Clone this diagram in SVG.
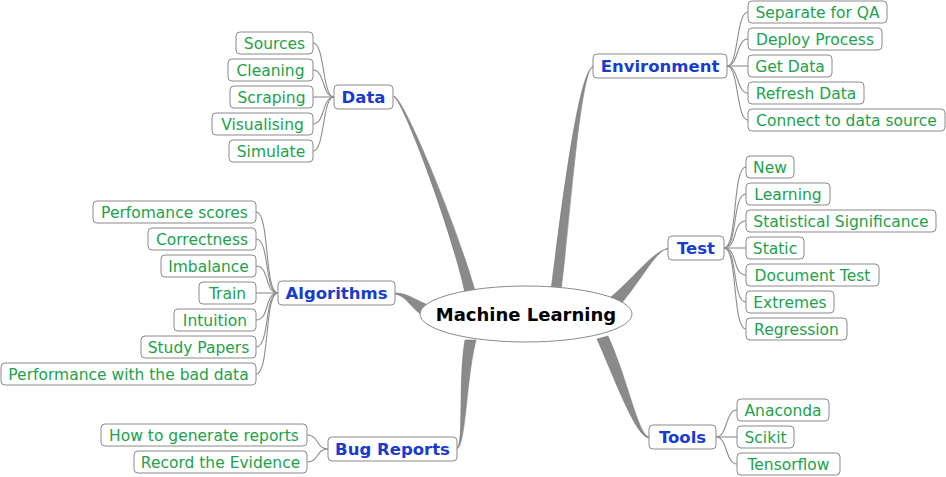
<svg xmlns="http://www.w3.org/2000/svg" width="946" height="477" viewBox="0 0 946 477">
<style>
.bg{fill:#ffffff}
.br{fill:#8a8a8a;stroke:#7a7a7a;stroke-width:0.6}
.ln{fill:none;stroke:#8c8c8c;stroke-width:1.1}
.cbox{fill:#ffffff;stroke:#8a8a8a;stroke-width:1}
.bbox{fill:#ffffff;stroke:#8a8a8a;stroke-width:1}
.ct{font-family:"DejaVu Sans",sans-serif;font-size:15.5px;fill:#21a24b;text-anchor:middle}
.bt{font-family:"DejaVu Sans",sans-serif;font-size:16.5px;font-weight:bold;fill:#1a3ccc;text-anchor:middle}
.mt{font-family:"DejaVu Sans",sans-serif;font-size:18px;font-weight:bold;fill:#000000;text-anchor:middle}
</style>
<rect class="bg" x="0" y="0" width="946" height="477"/>
<g id="connectors">
  <!-- main tapered branches -->
  <path class="br" d="M394,96 C405,100 458,230 475,291 L465,293 C452,232 404,102 394,97 Z"/>
  <path class="br" d="M593,66 C580,72 570,220 561,290 L551,290 C560,220 578,70 593,67 Z"/>
  <path class="br" d="M395,293 C408,293 414,300 431,306 L425,317 C410,308 407,296 395,294 Z"/>
  <path class="br" d="M668,248 C655,252 644,276 621,304 L611,297 C636,276 654,250 668,249 Z"/>
  <path class="br" d="M649,437 C638,435 628,380 608,336 L597,339 C616,382 636,437 649,438 Z"/>
  <path class="br" d="M457,449 C466,445 466,380 476,340 L465,340 C458,380 464,444 457,448 Z"/>
  <!-- child connectors: Data -->
  <path class="ln" d="M334,97 C322,97 325,43 313,43"/>
  <path class="ln" d="M334,97 C322,97 325,70 313,70"/>
  <path class="ln" d="M334,97 L313,97"/>
  <path class="ln" d="M334,97 C322,97 325,124 313,124"/>
  <path class="ln" d="M334,97 C322,97 325,151 313,151"/>
  <!-- Environment -->
  <path class="ln" d="M727,66 C739,66 736,12 748,12"/>
  <path class="ln" d="M727,66 C739,66 736,39 748,39"/>
  <path class="ln" d="M727,66 L748,66"/>
  <path class="ln" d="M727,66 C739,66 736,93 748,93"/>
  <path class="ln" d="M727,66 C739,66 736,120 748,120"/>
  <!-- Algorithms -->
  <path class="ln" d="M278,293 C264,293 270,212 256,212"/>
  <path class="ln" d="M278,293 C264,293 270,239 256,239"/>
  <path class="ln" d="M278,293 C264,293 270,266 256,266"/>
  <path class="ln" d="M278,293 L256,293"/>
  <path class="ln" d="M278,293 C264,293 270,320 256,320"/>
  <path class="ln" d="M278,293 C264,293 270,347 256,347"/>
  <path class="ln" d="M278,293 C264,293 270,374 256,374"/>
  <!-- Test -->
  <path class="ln" d="M724,248 C738,248 732,167 746,167"/>
  <path class="ln" d="M724,248 C738,248 732,194 746,194"/>
  <path class="ln" d="M724,248 C738,248 732,221 746,221"/>
  <path class="ln" d="M724,248 L746,248"/>
  <path class="ln" d="M724,248 C738,248 732,275 746,275"/>
  <path class="ln" d="M724,248 C738,248 732,302 746,302"/>
  <path class="ln" d="M724,248 C738,248 732,329 746,329"/>
  <!-- Bug Reports -->
  <path class="ln" d="M328,449 C316,449 319,435 307,435"/>
  <path class="ln" d="M328,449 C316,449 319,462 307,462"/>
  <!-- Tools -->
  <path class="ln" d="M716,437 C728,437 725,410 737,410"/>
  <path class="ln" d="M716,437 L737,437"/>
  <path class="ln" d="M716,437 C728,437 725,464 737,464"/>
</g>
<g id="center">
  <ellipse cx="526" cy="314" rx="106" ry="28" fill="#ffffff" stroke="#8a8a8a" stroke-width="1"/>
  <text class="mt" x="526" y="321">Machine Learning</text>
</g>
<g id="data">
  <rect class="bbox" x="334" y="85" width="59" height="24" rx="4"/>
  <text class="bt" x="363.5" y="103">Data</text>
</g>
<g id="data-children">
  <g id="sources"><rect class="cbox" x="236" y="32" width="77" height="22" rx="4"/><text class="ct" x="274.5" y="48.5">Sources</text></g>
  <g id="cleaning"><rect class="cbox" x="228" y="59" width="85" height="22" rx="4"/><text class="ct" x="270.5" y="75.5">Cleaning</text></g>
  <g id="scraping"><rect class="cbox" x="230" y="86" width="83" height="22" rx="4"/><text class="ct" x="271.5" y="102.5">Scraping</text></g>
  <g id="visualising"><rect class="cbox" x="212" y="113" width="101" height="22" rx="4"/><text class="ct" x="262.5" y="129.5">Visualising</text></g>
  <g id="simulate"><rect class="cbox" x="229" y="140" width="84" height="22" rx="4"/><text class="ct" x="271" y="156.5">Simulate</text></g>
</g>
<g id="environment">
  <rect class="bbox" x="593" y="54" width="134" height="24" rx="4"/>
  <text class="bt" x="660" y="72">Environment</text>
</g>
<g id="environment-children">
  <g id="separate-qa"><rect class="cbox" x="748" y="1" width="139" height="22" rx="4"/><text class="ct" x="817.5" y="17.5">Separate for QA</text></g>
  <g id="deploy"><rect class="cbox" x="748" y="28" width="134" height="22" rx="4"/><text class="ct" x="815" y="44.5">Deploy Process</text></g>
  <g id="get-data"><rect class="cbox" x="748" y="55" width="84" height="22" rx="4"/><text class="ct" x="790" y="71.5">Get Data</text></g>
  <g id="refresh"><rect class="cbox" x="748" y="82" width="116" height="22" rx="4"/><text class="ct" x="806" y="98.5">Refresh Data</text></g>
  <g id="connect"><rect class="cbox" x="748" y="109" width="197" height="22" rx="4"/><text class="ct" x="846.5" y="125.5">Connect to data source</text></g>
</g>
<g id="algorithms">
  <rect class="bbox" x="278" y="281" width="117" height="24" rx="4"/>
  <text class="bt" x="336.5" y="299">Algorithms</text>
</g>
<g id="algorithms-children">
  <g id="perfomance"><rect class="cbox" x="93" y="201" width="163" height="22" rx="4"/><text class="ct" x="174.5" y="217.5">Perfomance scores</text></g>
  <g id="correctness"><rect class="cbox" x="148" y="228" width="108" height="22" rx="4"/><text class="ct" x="202" y="244.5">Correctness</text></g>
  <g id="imbalance"><rect class="cbox" x="161" y="255" width="95" height="22" rx="4"/><text class="ct" x="208.5" y="271.5">Imbalance</text></g>
  <g id="train"><rect class="cbox" x="199" y="282" width="57" height="22" rx="4"/><text class="ct" x="227.5" y="298.5">Train</text></g>
  <g id="intuition"><rect class="cbox" x="174" y="309" width="82" height="22" rx="4"/><text class="ct" x="215" y="325.5">Intuition</text></g>
  <g id="study"><rect class="cbox" x="141" y="336" width="115" height="22" rx="4"/><text class="ct" x="198.5" y="352.5">Study Papers</text></g>
  <g id="bad-data"><rect class="cbox" x="1" y="363" width="255" height="22" rx="4"/><text class="ct" x="128.5" y="379.5">Performance with the bad data</text></g>
</g>
<g id="test">
  <rect class="bbox" x="668" y="236" width="56" height="24" rx="4"/>
  <text class="bt" x="696" y="254">Test</text>
</g>
<g id="test-children">
  <g id="new"><rect class="cbox" x="746" y="156" width="48" height="22" rx="4"/><text class="ct" x="770" y="172.5">New</text></g>
  <g id="learning"><rect class="cbox" x="746" y="183" width="84" height="22" rx="4"/><text class="ct" x="788" y="199.5">Learning</text></g>
  <g id="statistical"><rect class="cbox" x="746" y="210" width="190" height="22" rx="4"/><text class="ct" x="841" y="226.5">Statistical Significance</text></g>
  <g id="static"><rect class="cbox" x="746" y="237" width="58" height="22" rx="4"/><text class="ct" x="775" y="253.5">Static</text></g>
  <g id="document"><rect class="cbox" x="746" y="264" width="133" height="22" rx="4"/><text class="ct" x="812.5" y="280.5">Document Test</text></g>
  <g id="extremes"><rect class="cbox" x="746" y="291" width="88" height="22" rx="4"/><text class="ct" x="790" y="307.5">Extremes</text></g>
  <g id="regression"><rect class="cbox" x="746" y="318" width="101" height="22" rx="4"/><text class="ct" x="796.5" y="334.5">Regression</text></g>
</g>
<g id="bug-reports">
  <rect class="bbox" x="328" y="437" width="129" height="24" rx="4"/>
  <text class="bt" x="392.5" y="455">Bug Reports</text>
</g>
<g id="bug-reports-children">
  <g id="generate"><rect class="cbox" x="101" y="424" width="206" height="22" rx="4"/><text class="ct" x="204" y="440.5">How to generate reports</text></g>
  <g id="evidence"><rect class="cbox" x="134" y="451" width="173" height="22" rx="4"/><text class="ct" x="220.5" y="467.5">Record the Evidence</text></g>
</g>
<g id="tools">
  <rect class="bbox" x="649" y="425" width="67" height="24" rx="4"/>
  <text class="bt" x="682.5" y="443">Tools</text>
</g>
<g id="tools-children">
  <g id="anaconda"><rect class="cbox" x="737" y="399" width="92" height="22" rx="4"/><text class="ct" x="783" y="415.5">Anaconda</text></g>
  <g id="scikit"><rect class="cbox" x="737" y="426" width="57" height="22" rx="4"/><text class="ct" x="765.5" y="442.5">Scikit</text></g>
  <g id="tensorflow"><rect class="cbox" x="737" y="453" width="103" height="22" rx="4"/><text class="ct" x="788.5" y="469.5">Tensorflow</text></g>
</g>
</svg>
